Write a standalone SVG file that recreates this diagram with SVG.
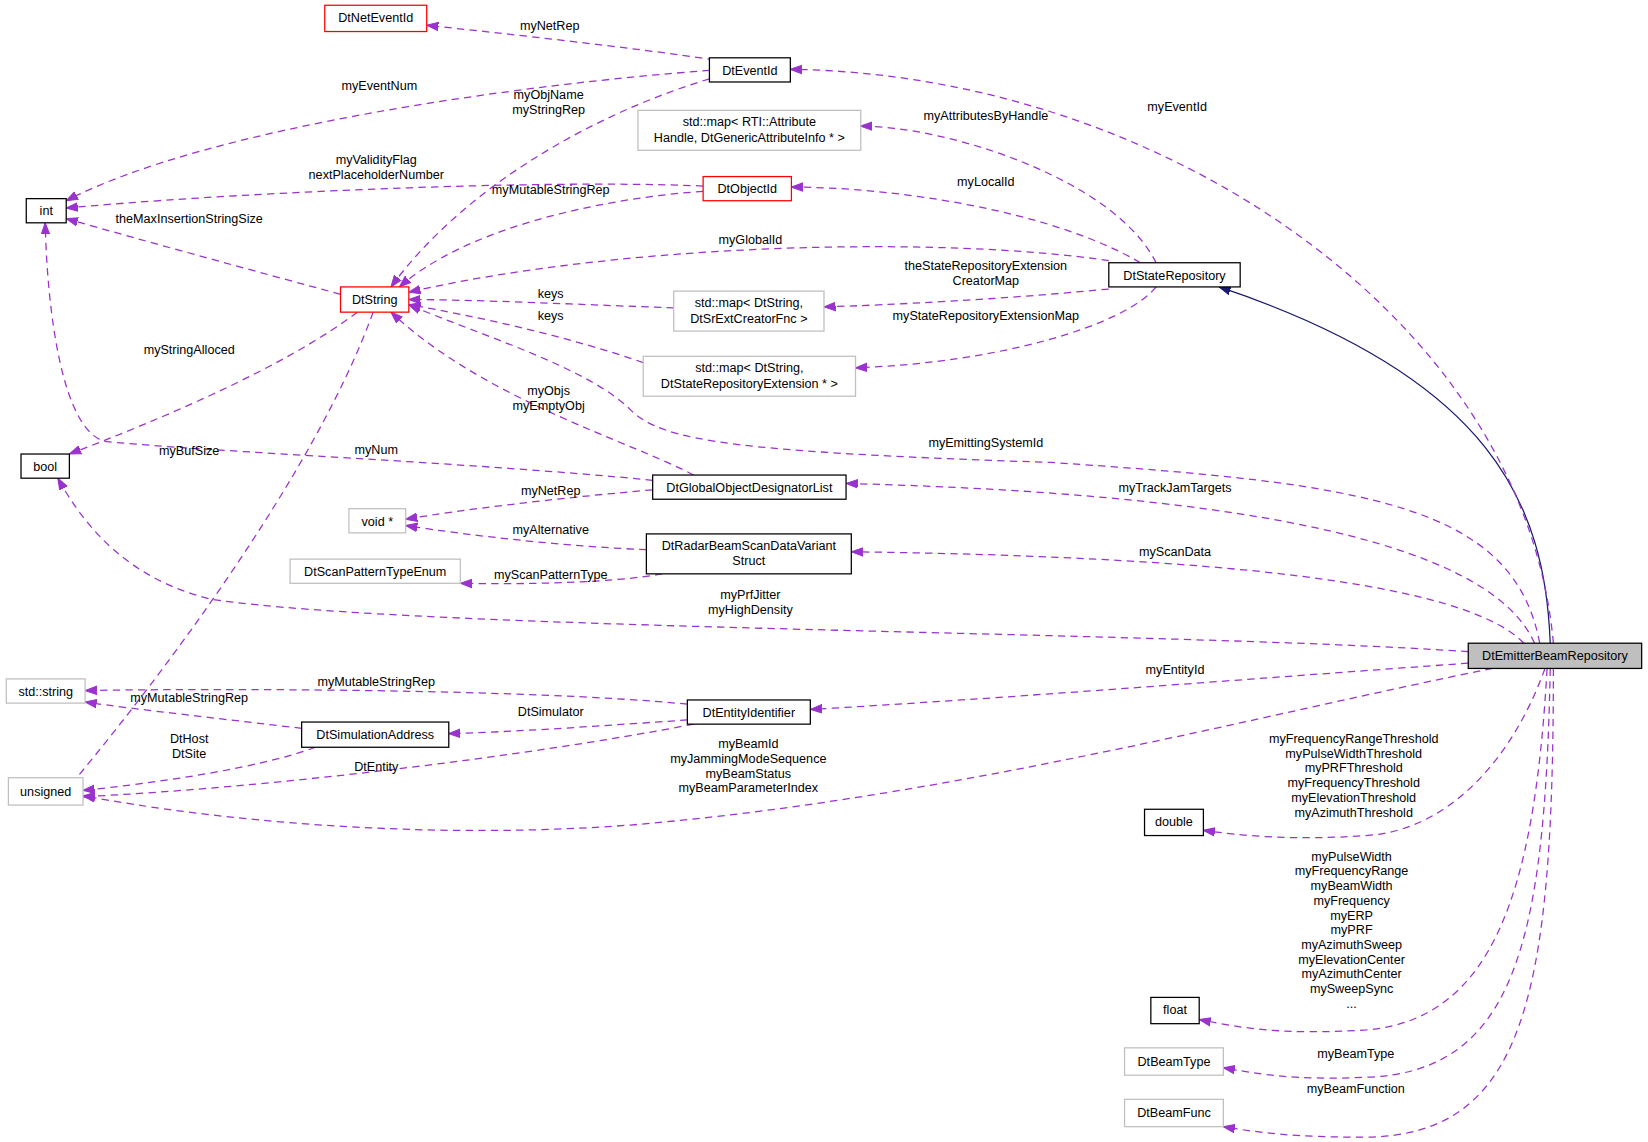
<svg xmlns="http://www.w3.org/2000/svg" width="1648" height="1142" viewBox="0 0 1648 1142">
<style>
text{font-family:"Liberation Sans",Arial,sans-serif;font-size:12px;fill:#000;text-anchor:middle}
.n rect{fill:#fff;stroke:#000;stroke-width:1.2}
.r rect{stroke:#f00}
.g rect{stroke:#bfbfbf}
.e path{fill:none;stroke:#9a32cd;stroke-dasharray:7,5;stroke-width:1.2;marker-end:url(#a)}
.e path.inh{stroke:#191970;stroke-dasharray:none;marker-end:url(#b)}
</style>
<defs>
<marker id="a" markerWidth="12" markerHeight="10" refX="11" refY="5" orient="auto" markerUnits="userSpaceOnUse"><path d="M0,1L11,5L0,9z" fill="#9a32cd" stroke="#9a32cd"/></marker>
<marker id="b" markerWidth="12" markerHeight="10" refX="11" refY="5" orient="auto" markerUnits="userSpaceOnUse"><path d="M0,1L11,5L0,9z" fill="#191970" stroke="#191970"/></marker>
</defs>
<rect width="1648" height="1142" fill="#fff"/>
<g transform="scale(1.051)">
<g id="connectors" class="e">
<path d="M680,57 C600,45 480,32 406,24"/>
<path d="M675,67 C500,80 200,120 63,191"/>
<path d="M675,75 C560,110 440,180 372,273"/>
<path d="M669,177 C500,170 200,185 63,198"/>
<path d="M669,182 C560,190 440,220 380,273"/>
<path d="M324,280 C250,260 140,230 63,208"/>
<path d="M1100,250 C1060,170 900,120 819,120"/>
<path d="M1085,250 C1000,200 850,178 753,178"/>
<path d="M1055,248 C900,225 600,230 389,278"/>
<path d="M1055,275 C950,285 850,290 784,292"/>
<path d="M1100,273 C1070,310 950,345 814,350"/>
<path d="M641,293 C560,290 450,285 389,285"/>
<path d="M612,345 C540,320 450,300 389,290"/>
<path d="M340,297 C270,350 150,400 66,432"/>
<path d="M355,297 C300,450 150,650 52,765"/>
<path d="M621,457 C450,440 200,430 100,420 C60,410 45,300 43,212"/>
<path d="M660,452 C600,420 460,380 372,297"/>
<path d="M621,466 C520,475 440,485 386,494"/>
<path d="M615,523 C540,520 450,510 386,500"/>
<path d="M630,546 C580,555 500,556 438,555"/>
<path d="M287,693 C220,685 130,675 81,668"/>
<path d="M300,711 C250,730 150,745 79,752"/>
<path d="M654,670 C500,655 200,655 81,657"/>
<path d="M654,685 C580,690 500,696 427,698"/>
<path d="M660,689 C500,720 250,750 79,758"/>
<path class="inh" d="M1475,612 C1470,480 1420,360 1160,273"/>
<path d="M1478,612 C1450,300 1100,70 752,66"/>
<path d="M1465,612 C1440,480 1300,460 1000,440 C700,430 630,420 600,390 C560,350 460,320 389,290"/>
<path d="M1460,612 C1420,520 1200,470 805,460"/>
<path d="M1450,612 C1400,560 1200,530 810,525"/>
<path d="M1397,620 C1100,600 400,600 200,570 C120,550 80,500 55,455"/>
<path d="M1397,631 C1200,645 950,665 771,675"/>
<path d="M1420,636 C1200,680 900,760 600,785 C400,800 200,780 79,757"/>
<path d="M1470,636 C1440,720 1380,790 1300,795 C1230,800 1180,795 1145,790"/>
<path d="M1472,636 C1460,850 1420,970 1300,980 C1220,985 1180,978 1141,970"/>
<path d="M1475,636 C1470,900 1440,1020 1300,1025 C1230,1028 1200,1022 1164,1016"/>
<path d="M1478,636 C1478,950 1450,1080 1300,1082 C1230,1082 1200,1078 1164,1072"/>
</g>
<g id="labels">
<text x="523" y="29">myNetRep</text>
<text x="361" y="86">myEventNum</text>
<text x="522" y="94">myObjName</text><text x="522" y="108">myStringRep</text>
<text x="358" y="156">myValidityFlag</text><text x="358" y="170">nextPlaceholderNumber</text>
<text x="524" y="185">myMutableStringRep</text>
<text x="180" y="212">theMaxInsertionStringSize</text>
<text x="938" y="114">myAttributesByHandle</text>
<text x="938" y="177">myLocalId</text>
<text x="714" y="232">myGlobalId</text>
<text x="938" y="257">theStateRepositoryExtension</text><text x="938" y="271">CreatorMap</text>
<text x="938" y="304">myStateRepositoryExtensionMap</text>
<text x="524" y="284">keys</text>
<text x="524" y="304">keys</text>
<text x="180" y="337">myStringAlloced</text>
<text x="180" y="433">myBufSize</text>
<text x="358" y="432">myNum</text>
<text x="522" y="376">myObjs</text><text x="522" y="390">myEmptyObj</text>
<text x="524" y="471">myNetRep</text>
<text x="524" y="508">myAlternative</text>
<text x="524" y="551">myScanPatternType</text>
<text x="180" y="668">myMutableStringRep</text>
<text x="180" y="707">DtHost</text><text x="180" y="721">DtSite</text>
<text x="358" y="653">myMutableStringRep</text>
<text x="524" y="681">DtSimulator</text>
<text x="358" y="734">DtEntity</text>
<text x="1120" y="106">myEventId</text>
<text x="938" y="425">myEmittingSystemId</text>
<text x="1118" y="468">myTrackJamTargets</text>
<text x="1118" y="529">myScanData</text>
<text x="714" y="570">myPrfJitter</text><text x="714" y="584">myHighDensity</text>
<text x="1118" y="641">myEntityId</text>
<text x="712" y="712">myBeamId</text><text x="712" y="726">myJammingModeSequence</text><text x="712" y="740">myBeamStatus</text><text x="712" y="754">myBeamParameterIndex</text>
<text x="1288" y="707">myFrequencyRangeThreshold</text><text x="1288" y="721">myPulseWidthThreshold</text><text x="1288" y="735">myPRFThreshold</text><text x="1288" y="749">myFrequencyThreshold</text><text x="1288" y="763">myElevationThreshold</text><text x="1288" y="777">myAzimuthThreshold</text>
<text x="1286" y="819">myPulseWidth</text><text x="1286" y="833">myFrequencyRange</text><text x="1286" y="847">myBeamWidth</text><text x="1286" y="861">myFrequency</text><text x="1286" y="875">myERP</text><text x="1286" y="889">myPRF</text><text x="1286" y="903">myAzimuthSweep</text><text x="1286" y="917">myElevationCenter</text><text x="1286" y="931">myAzimuthCenter</text><text x="1286" y="945">mySweepSync</text><text x="1286" y="959">...</text>
<text x="1290" y="1007">myBeamType</text>
<text x="1290" y="1040">myBeamFunction</text>
</g>
<g id="DtNetEventId" class="n r"><rect x="309" y="5" width="97" height="25"/><text x="357.5" y="21">DtNetEventId</text></g>
<g id="DtEventId" class="n"><rect x="675" y="55" width="77" height="23"/><text x="713.5" y="71">DtEventId</text></g>
<g id="mapRTI" class="n g"><rect x="607" y="105" width="212" height="38"/><text x="713" y="120">std::map&lt; RTI::Attribute</text><text x="713" y="135">Handle, DtGenericAttributeInfo * &gt;</text></g>
<g id="int" class="n"><rect x="25" y="189" width="38" height="23"/><text x="44" y="205">int</text></g>
<g id="DtObjectId" class="n r"><rect x="669" y="168" width="84" height="23"/><text x="711" y="184">DtObjectId</text></g>
<g id="DtString" class="n r"><rect x="324" y="273" width="65" height="24"/><text x="356.5" y="289">DtString</text></g>
<g id="DtStateRepository" class="n"><rect x="1055" y="250" width="125" height="23"/><text x="1117.5" y="266">DtStateRepository</text></g>
<g id="mapSrExt" class="n g"><rect x="641" y="277" width="143" height="38"/><text x="712.5" y="292">std::map&lt; DtString,</text><text x="712.5" y="307">DtSrExtCreatorFnc &gt;</text></g>
<g id="mapExt" class="n g"><rect x="612" y="339" width="202" height="38"/><text x="713" y="354">std::map&lt; DtString,</text><text x="713" y="369">DtStateRepositoryExtension * &gt;</text></g>
<g id="bool" class="n"><rect x="20" y="432" width="46" height="23"/><text x="43" y="448">bool</text></g>
<g id="DtGlobalObjectDesignatorList" class="n"><rect x="621" y="452" width="184" height="23"/><text x="713" y="468">DtGlobalObjectDesignatorList</text></g>
<g id="void" class="n g"><rect x="332" y="484" width="54" height="23"/><text x="359" y="500">void *</text></g>
<g id="DtRadarBeamScanDataVariantStruct" class="n"><rect x="615" y="508" width="195" height="38"/><text x="712.5" y="523">DtRadarBeamScanDataVariant</text><text x="712.5" y="538">Struct</text></g>
<g id="DtScanPatternTypeEnum" class="n g"><rect x="276" y="532" width="162" height="23"/><text x="357" y="548">DtScanPatternTypeEnum</text></g>
<g id="DtEmitterBeamRepository" class="n"><rect x="1397" y="612" width="165" height="24" style="fill:#bfbfbf"/><text x="1479.5" y="628">DtEmitterBeamRepository</text></g>
<g id="stdstring" class="n g"><rect x="6" y="646" width="75" height="23"/><text x="43.5" y="662">std::string</text></g>
<g id="DtEntityIdentifier" class="n"><rect x="654" y="666" width="117" height="23"/><text x="712.5" y="682">DtEntityIdentifier</text></g>
<g id="DtSimulationAddress" class="n"><rect x="287" y="687" width="140" height="24"/><text x="357" y="703">DtSimulationAddress</text></g>
<g id="unsigned" class="n g"><rect x="8" y="740" width="71" height="26"/><text x="43.5" y="757">unsigned</text></g>
<g id="double" class="n"><rect x="1089" y="770" width="56" height="25"/><text x="1117" y="786">double</text></g>
<g id="float" class="n"><rect x="1095" y="949" width="46" height="25"/><text x="1118" y="965">float</text></g>
<g id="DtBeamType" class="n g"><rect x="1070" y="997" width="94" height="26"/><text x="1117" y="1014">DtBeamType</text></g>
<g id="DtBeamFunc" class="n g"><rect x="1070" y="1046" width="94" height="26"/><text x="1117" y="1063">DtBeamFunc</text></g>
</g>
</svg>
